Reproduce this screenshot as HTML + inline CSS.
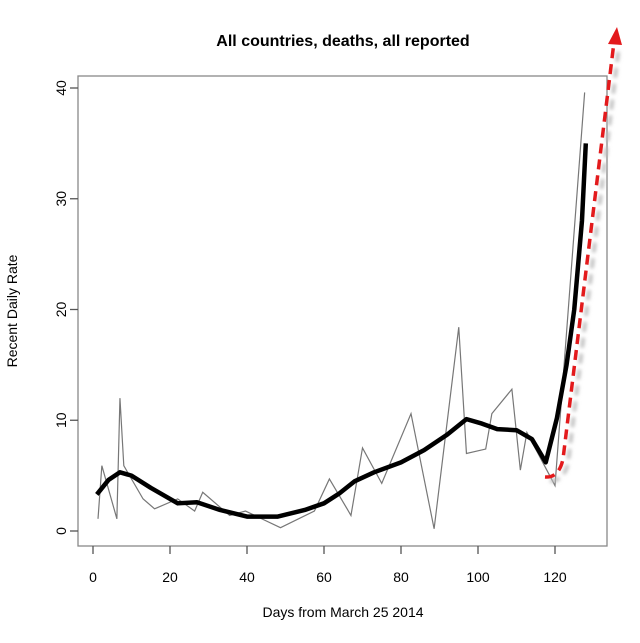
<!DOCTYPE html>
<html><head><meta charset="utf-8"><style>
html,body{margin:0;padding:0;background:#fff;}
svg{display:block;font-family:"Liberation Sans",Arial,sans-serif;}
</style></head><body>
<svg id="chart" width="640" height="643" viewBox="0 0 640 643" xmlns="http://www.w3.org/2000/svg">
<defs>
<filter id="sh" x="-50%" y="-10%" width="200%" height="120%"><feGaussianBlur stdDeviation="1.8"/></filter>
</defs>
<text x="343" y="46" text-anchor="middle" font-size="16" font-weight="bold">All countries, deaths, all reported</text>
<rect x="78" y="76" width="529" height="470" fill="none" stroke="#888" stroke-width="1.3"/>
<g id="xaxis"></g>
<g id="yaxis"></g>
<text x="343" y="617" text-anchor="middle" font-size="14">Days from March 25 2014</text>
<text transform="translate(17,311) rotate(-90)" text-anchor="middle" font-size="14">Recent Daily Rate</text>
<g id="series"></g>
<g>
<path d="M547,479 Q561,479 565,461 L616,44" fill="none" stroke="#bbb" stroke-width="3.5" stroke-dasharray="10,6" filter="url(#sh)" transform="translate(3,2)"/>
<path d="M545,477 Q559,478 563,459 L614,42" fill="none" stroke="#e31a1c" stroke-width="3.5" stroke-dasharray="10,6"/>
<polygon points="617,27 608,44 622,45" fill="#e31a1c"/>
</g>
</svg>
<script>
const rawDays=[1.3,2.3,6.2,7,8,13,16,22,26.4,28.5,35.5,39.6,48.7,57.5,61.4,66,67,70,75,82.6,88.6,95,97,102,103.6,108.8,111,112.7,120,127.7];
const rawVals=[1.1,5.9,1.1,12,5.9,2.9,2.0,2.9,1.8,3.5,1.4,1.8,0.3,1.8,4.7,2.0,1.4,7.5,4.3,10.6,0.2,18.4,7.0,7.4,10.6,12.8,5.5,8.9,4.1,39.6];
const smoothDays=[1,4,7,10,15,22,27,33,40,48,55,60,64,68,73,80,86,92,97,101,105,110,114,117.6,120.5,123,125,127,128];
const smoothVals=[3.3,4.6,5.3,5.0,3.9,2.5,2.6,1.9,1.3,1.3,1.9,2.5,3.4,4.5,5.3,6.2,7.3,8.7,10.1,9.7,9.2,9.1,8.3,6.2,10.2,15,20,28,35];
const xTicks=[0,20,40,60,80,100,120];
const yTicks=[0,10,20,30,40];
const NS="http://www.w3.org/2000/svg";
const sx=d=>93+d*(555-93)/120;
const sy=v=>531-v*(531-88)/40;
function mk(t,a,p){const e=document.createElementNS(NS,t);for(const k in a)e.setAttribute(k,a[k]);p.appendChild(e);return e;}
const xa=document.getElementById('xaxis'),ya=document.getElementById('yaxis'),sr=document.getElementById('series');
xTicks.forEach(t=>{
 const l=mk('line',{x1:sx(t),x2:sx(t),y1:546,y2:554,stroke:'#555','stroke-width':1.3},xa);
 
 
 const tx=mk('text',{x:sx(t),y:582,'text-anchor':'middle','font-size':14},xa);
 tx.textContent=t;
 
 
});
yTicks.forEach(t=>{
 const l=mk('line',{x1:70,x2:78,y1:sy(t),y2:sy(t),stroke:'#555','stroke-width':1.3},ya);
 
 
 const tx=mk('text',{transform:`translate(66,${sy(t)}) rotate(-90)`,'text-anchor':'middle','font-size':14},ya);
 tx.textContent=t;
 
 
});
const rp=mk('polyline',{points:rawDays.map((d,i)=>sx(d)+','+sy(rawVals[i])).join(' '),fill:'none',stroke:'#777','stroke-width':1.2},sr);


const sp=mk('polyline',{points:smoothDays.map((d,i)=>sx(d)+','+sy(smoothVals[i])).join(' '),fill:'none',stroke:'#000','stroke-width':4.5,'stroke-linejoin':'round'},sr);


</script>
</body></html>
